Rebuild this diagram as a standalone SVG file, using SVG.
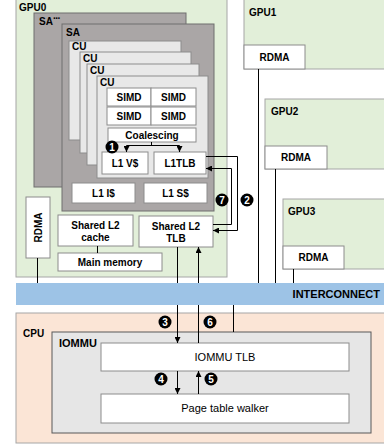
<svg xmlns="http://www.w3.org/2000/svg" width="384" height="446" viewBox="0 0 384 446">
<defs>
<style>
text{font-family:"Liberation Sans",Arial,sans-serif;fill:#000}
.b{font-weight:bold;font-size:10px}
.c{text-anchor:middle}
.gpu{fill:#e2efd9;stroke:#a6a6a6;stroke-width:1}
.sa{fill:#aaa6a6;stroke:#6e6e6e;stroke-width:1}
.cu{fill:#e8e8e8;stroke:#8c8c8c;stroke-width:1}
.w{fill:#fff;stroke:#8c8c8c;stroke-width:1}
.ln{fill:none;stroke:#000;stroke-width:1}
.bd circle{fill:#000}
.bd text{fill:#fff;font-weight:bold;font-size:10px;text-anchor:middle}
</style>
<marker id="ah" viewBox="0 0 6 6" refX="6" refY="3" markerWidth="6" markerHeight="6" markerUnits="userSpaceOnUse" orient="auto">
<path d="M0,0 L6,3 L0,6 z" fill="#000"/>
</marker>
</defs>
<rect width="384" height="446" fill="#fff"/>

<g id="gpu1">
<rect class="gpu" x="244" y="-2" width="150" height="71"/>
<text class="b" x="249" y="16">GPU1</text>
<rect class="w" x="244" y="45" width="61" height="24"/>
<text class="b c" x="274.5" y="60.5">RDMA</text>
</g>
<g id="gpu2">
<rect class="gpu" x="265" y="99" width="130" height="70"/>
<text class="b" x="271" y="115">GPU2</text>
<rect class="w" x="265" y="146" width="62" height="23"/>
<text class="b c" x="296" y="161">RDMA</text>
</g>
<g id="gpu3">
<rect class="gpu" x="283" y="199" width="110" height="70"/>
<text class="b" x="288" y="215">GPU3</text>
<rect class="w" x="283" y="246" width="61" height="23"/>
<text class="b c" x="313.5" y="261">RDMA</text>
</g>

<g id="gpu0">
<rect class="gpu" x="16" y="-1" width="211" height="278"/>
<text class="b" x="19" y="11">GPU0</text>
</g>
<g id="sa1">
<rect class="sa" x="34" y="13" width="152" height="174"/>
<text class="b" x="39" y="25">SA<tspan dy="-3" letter-spacing="-1">···</tspan></text>
</g>
<g id="sa0">
<rect class="sa" x="62" y="24" width="152" height="187"/>
<text class="b" x="66" y="36">SA</text>
</g>
<g id="cu1"><rect class="cu" x="69" y="41" width="112" height="99"/><text class="b" x="72" y="50">CU</text></g>
<g id="cu2"><rect class="cu" x="80" y="52" width="111" height="101"/><text class="b" x="83" y="62">CU</text></g>
<g id="cu3"><rect class="cu" x="87" y="64" width="112" height="101"/><text class="b" x="90" y="74">CU</text></g>
<g id="cu4"><rect class="cu" x="97" y="76" width="111" height="102"/><text class="b" x="100" y="86">CU</text></g>
<g id="simd1"><rect class="w" x="107" y="88" width="44" height="18"/><text class="b c" x="129" y="100.5">SIMD</text></g>
<g id="simd2"><rect class="w" x="151" y="88" width="45" height="18"/><text class="b c" x="173.5" y="100.5">SIMD</text></g>
<g id="simd3"><rect class="w" x="107" y="107" width="44" height="18"/><text class="b c" x="129" y="119.5">SIMD</text></g>
<g id="simd4"><rect class="w" x="151" y="107" width="45" height="18"/><text class="b c" x="173.5" y="119.5">SIMD</text></g>
<g id="coalescing"><rect class="w" x="108" y="128" width="88" height="14"/><text class="b c" x="152" y="138.5">Coalescing</text></g>
<g id="l1v"><rect class="w" x="102" y="152" width="46" height="22"/><text class="b c" x="125" y="166.5">L1 V$</text></g>
<g id="l1tlb"><rect class="w" x="154" y="152" width="52" height="22"/><text class="b c" x="180" y="166.5">L1TLB</text></g>
<g id="l1i"><rect class="w" x="72" y="183" width="63" height="20"/><text class="b c" x="103.5" y="196.5">L1 I$</text></g>
<g id="l1s"><rect class="w" x="144" y="183" width="63" height="20"/><text class="b c" x="175.5" y="196.5">L1 S$</text></g>
<g id="l2cache"><rect class="w" x="58" y="215" width="75" height="31"/><text class="b c" x="95.5" y="229">Shared L2</text><text class="b c" x="95.5" y="241">cache</text></g>
<g id="l2tlb"><rect class="w" x="139" y="216" width="74" height="31"/><text class="b c" x="176" y="230">Shared L2</text><text class="b c" x="176" y="242">TLB</text></g>
<g id="mainmem"><rect class="w" x="58" y="253" width="104" height="18"/><text class="b c" x="110" y="266">Main memory</text></g>
<g id="rdma0"><rect class="w" x="26" y="197" width="24" height="61"/><text class="b c" transform="translate(41.5,227.5) rotate(-90)">RDMA</text></g>

<g id="cpu">
<rect x="16" y="313" width="380" height="130" fill="#fbe5d6" stroke="#a6a6a6"/>
<text class="b" x="23" y="337">CPU</text>
</g>
<g id="iommu">
<rect x="52" y="332" width="319" height="101" fill="#e6e6e6" stroke="#595959"/>
<text class="b" x="59" y="347" style="font-size:11px">IOMMU</text>
</g>
<g id="iommutlb"><rect class="w" x="101" y="343" width="248" height="28"/><text class="c" x="225" y="361" style="font-size:11px">IOMMU TLB</text></g>
<g id="ptw"><rect class="w" x="101" y="394" width="248" height="29"/><text class="c" x="225" y="412" style="font-size:11px">Page table walker</text></g>

<g id="connectors">
<path class="ln" d="M37.5,258 V283"/>
<path class="ln" d="M258.5,69 V283"/>
<path class="ln" d="M275.5,169 V283"/>
<path class="ln" d="M293.5,269 V283"/>
<path class="ln" d="M97.5,246 V253"/>
<path class="ln" d="M151.5,142 V145.5 M126.5,145.5 H179.5"/>
<path class="ln" d="M126.5,145.5 V152" marker-end="url(#ah)"/>
<path class="ln" d="M179.5,145.5 V152" marker-end="url(#ah)"/>
<path class="ln" d="M206,156.5 H237.5 V230.5 H213" marker-end="url(#ah)"/>
<path class="ln" d="M213,224.5 H231.5 V168.5 H206" marker-end="url(#ah)"/>
<path class="ln" d="M177.5,247 V283"/>
<path class="ln" d="M198.5,283 V247" marker-end="url(#ah)"/>
<path class="ln" d="M177.5,305 V343" marker-end="url(#ah)"/>
<path class="ln" d="M198.5,343 V305"/>
<path class="ln" d="M233.5,305 V332"/>
<path class="ln" d="M177.5,371 V394" marker-end="url(#ah)"/>
<path class="ln" d="M198.5,394 V371" marker-end="url(#ah)"/>
</g>

<g id="interconnect">
<rect x="16" y="283" width="370" height="22" fill="#9dc3e6"/>
<text class="b" x="380" y="298" text-anchor="end" style="font-size:11px">INTERCONNECT</text>
</g>

<g id="badges" class="bd">
<circle cx="112" cy="147" r="6.5"/><text x="112" y="150.5">1</text>
<circle cx="247" cy="200" r="6.5"/><text x="247" y="203.5">2</text>
<circle cx="165" cy="322" r="6.5"/><text x="165" y="325.5">3</text>
<circle cx="161" cy="379" r="6.5"/><text x="161" y="382.5">4</text>
<circle cx="211" cy="379" r="6.5"/><text x="211" y="382.5">5</text>
<circle cx="210" cy="322" r="6.5"/><text x="210" y="325.5">6</text>
<circle cx="222" cy="200" r="6.5"/><text x="222" y="203.5">7</text>
</g>
</svg>
